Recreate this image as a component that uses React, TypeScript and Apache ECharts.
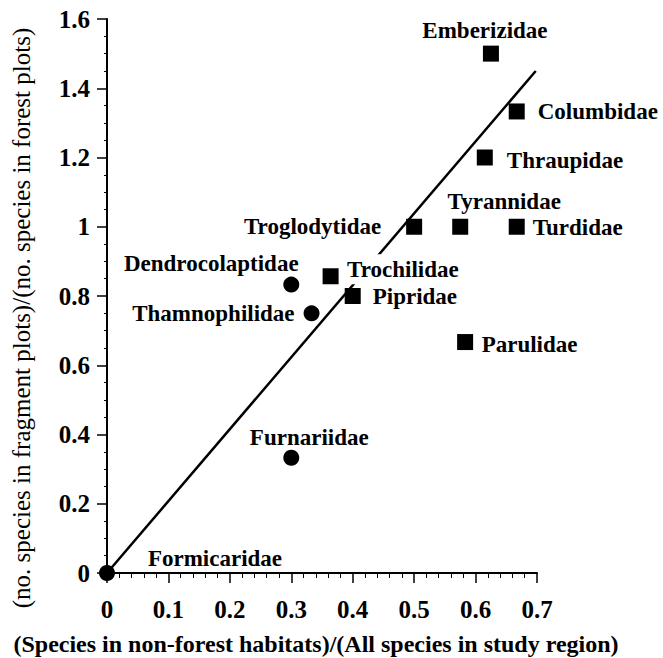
import React, { useEffect, useRef } from "react";
import * as echarts from "echarts";

// ---- data ----
const circleFamilies = ["Formicaridae", "Furnariidae", "Dendrocolaptidae", "Thamnophilidae"];
const circleX = [0, 0.3, 0.3, 0.333];
const circleY = [0, 0.333, 0.833, 0.75];

const squareFamilies = [
  "Trochilidae", "Pipridae", "Troglodytidae", "Tyrannidae", "Turdidae",
  "Parulidae", "Thraupidae", "Columbidae", "Emberizidae",
];
const squareX = [0.364, 0.4, 0.5, 0.575, 0.667, 0.583, 0.615, 0.667, 0.625];
const squareY = [0.857, 0.8, 1.0, 1.0, 1.0, 0.667, 1.2, 1.333, 1.5];

const fitLineX = [0, 0.698];
const fitLineY = [0, 1.45];

const xTickLabels = ["0", "0.1", "0.2", "0.3", "0.4", "0.5", "0.6", "0.7"];
const yTickLabels = ["0", "0.2", "0.4", "0.6", "0.8", "1", "1.2", "1.4", "1.6"];

const xTitle = "(Species in non-forest habitats)/(All species in study region)";
const yTitle = "(no. species in fragment plots)/(no. species in forest plots)";

// ---- label layout (style only) ----
const labelLayout: Record<string, any> = {
  Emberizidae: { position: "inside", offset: [-6, -23] },
  Columbidae: { position: "right", distance: 13, offset: [0, 0] },
  Thraupidae: { position: "right", distance: 14, offset: [0, 3] },
  Tyrannidae: { position: "inside", offset: [44, -25] },
  Turdidae: { position: "right", distance: 8, offset: [0, 1] },
  Troglodytidae: { position: "left", distance: 25, offset: [0, 0] },
  Dendrocolaptidae: { position: "inside", offset: [-80, -21] },
  Thamnophilidae: { position: "left", distance: 9, offset: [0, 0] },
  Trochilidae: {
    position: "right", distance: 6.5, offset: [0, -7],
    backgroundColor: "#ffffff", padding: [4, 2, 3, 2],
  },
  Pipridae: { position: "right", distance: 12, offset: [0, 0] },
  Parulidae: { position: "right", distance: 8.5, offset: [0, 2] },
  Furnariidae: { position: "inside", offset: [18, -20] },
  Formicaridae: { position: "inside", offset: [108, -15] },
};

const SERIF = "'Liberation Serif', 'Times New Roman', serif";

function buildPoints(names: string[], xs: number[], ys: number[]) {
  return names.map((n, i) => ({
    name: n,
    value: [xs[i], ys[i]],
    label: {
      show: true,
      formatter: n,
      color: "#000",
      fontFamily: SERIF,
      fontWeight: "bold",
      fontSize: 23,
      textBorderWidth: 0,
      ...labelLayout[n],
    },
  }));
}

export default function App() {
  const ref = useRef<HTMLDivElement>(null);

  useEffect(() => {
    document.body.style.margin = "0";
    if (!ref.current) return;
    const chart = echarts.init(ref.current, null, { renderer: "svg" });

    const axisLabelStyle = {
      color: "#000",
      fontFamily: SERIF,
      fontWeight: "bold",
      fontSize: 25,
    };

    chart.setOption({
      animation: false,
      backgroundColor: "#ffffff",
      grid: { left: 107, top: 19, width: 430, height: 554, containLabel: false },
      xAxis: {
        type: "value",
        min: 0,
        max: 0.7,
        interval: 0.1,
        axisLine: { show: true, onZero: false, lineStyle: { color: "#000", width: 2 } },
        axisTick: { show: true, inside: false, length: 10, lineStyle: { color: "#000", width: 1.5 } },
        minorTick: { show: true, splitNumber: 5, length: 5, lineStyle: { color: "#000", width: 1 } },
        splitLine: { show: false },
        axisLabel: {
          ...axisLabelStyle,
          margin: 24,
          formatter: (v: number) => xTickLabels[Math.round(v * 10)] ?? String(v),
        },
      },
      yAxis: {
        type: "value",
        min: 0,
        max: 1.6,
        interval: 0.2,
        axisLine: { show: true, onZero: false, lineStyle: { color: "#000", width: 2 } },
        axisTick: { show: true, inside: false, length: 10, lineStyle: { color: "#000", width: 1.5 } },
        minorTick: { show: true, splitNumber: 4, length: 3, lineStyle: { color: "#000", width: 1 } },
        splitLine: { show: false },
        axisLabel: {
          ...axisLabelStyle,
          margin: 17,
          formatter: (v: number) => yTickLabels[Math.round(v * 5)] ?? String(v),
        },
      },
      series: [
        {
          type: "line",
          z: 1,
          data: fitLineX.map((x, i) => [x, fitLineY[i]]),
          showSymbol: false,
          symbol: "none",
          clip: false,
          lineStyle: { color: "#000", width: 2.5 },
          silent: true,
        },
        {
          type: "scatter",
          z: 3,
          symbol: "circle",
          symbolSize: 16,
          clip: false,
          itemStyle: { color: "#000", opacity: 1 },
          data: buildPoints(circleFamilies, circleX, circleY),
        },
        {
          type: "scatter",
          z: 3,
          symbol: "rect",
          symbolSize: 16,
          clip: false,
          itemStyle: { color: "#000", opacity: 1 },
          data: buildPoints(squareFamilies, squareX, squareY),
        },
      ],
      graphic: [
        {
          type: "text",
          x: 316,
          y: 644,
          style: {
            text: xTitle,
            fill: "#000",
            font: `bold 24px ${SERIF}`,
            align: "center",
            verticalAlign: "middle",
          },
        },
        {
          type: "text",
          x: 21,
          y: 318,
          rotation: Math.PI / 2,
          style: {
            text: yTitle,
            fill: "#000",
            font: `25px ${SERIF}`,
            align: "center",
            verticalAlign: "middle",
          },
        },
      ],
    });

    return () => chart.dispose();
  }, []);

  return <div ref={ref} style={{ width: 663, height: 658 }} />;
}
